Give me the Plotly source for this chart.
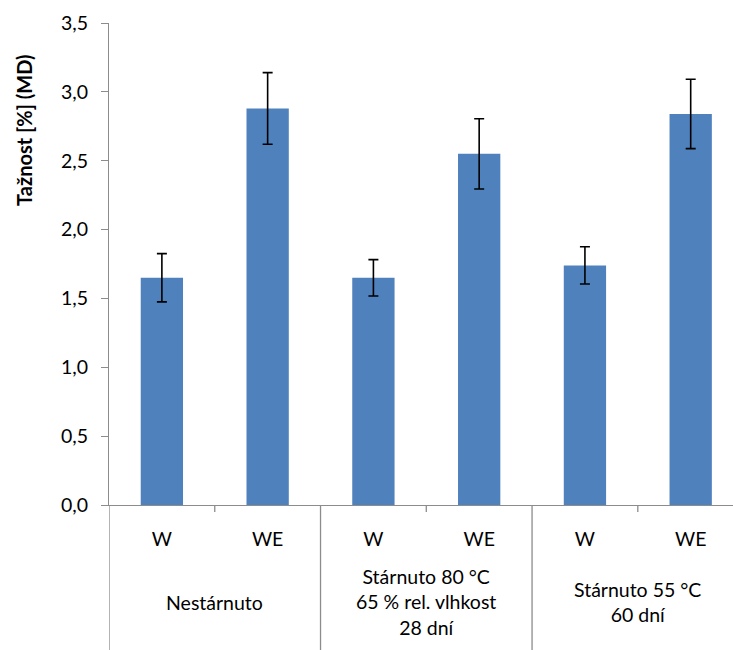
import plotly.graph_objects as go

# Data
groups = ["Nestárnuto", "Stárnuto 80 °C<br>65 % rel. vlhkost<br>28 dní", "Stárnuto 55 °C<br>60 dní"]
subcats = ["W", "WE", "W", "WE", "W", "WE"]
values = [1.65, 2.88, 1.65, 2.55, 1.74, 2.84]
errors = [0.175, 0.26, 0.132, 0.255, 0.135, 0.252]
y_ticks = [0.0, 0.5, 1.0, 1.5, 2.0, 2.5, 3.0, 3.5]

FONT = "Lato, 'Open Sans', sans-serif"
AXIS_GREY = "#8c8c8c"
BAR_BLUE = "#4f81bd"

xpos = list(range(len(values)))

fig = go.Figure()
fig.add_trace(go.Bar(
    x=xpos,
    y=values,
    width=0.4,
    marker=dict(color=BAR_BLUE, line=dict(width=0)),
    error_y=dict(type="data", array=errors, visible=True,
                 color="black", thickness=1.6, width=5),
    showlegend=False,
))

# bottom of the label area in paper units (below the x axis)
plot_h = 650 - 23 - 145
bottom = -145 / plot_h

shapes = []
# long separators: left edge and between the condition groups
for xv in [-0.5, 1.5, 3.5]:
    shapes.append(dict(type="line", xref="x", yref="paper",
                       x0=xv, x1=xv, y0=0, y1=bottom,
                       line=dict(color=AXIS_GREY, width=1.3)))
# short ticks between W and WE within each group
for xv in [0.5, 2.5, 4.5]:
    shapes.append(dict(type="line", xref="x", yref="paper",
                       x0=xv, x1=xv, y0=0, y1=-7 / plot_h,
                       line=dict(color=AXIS_GREY, width=1.3)))

annotations = []
# group labels centred under each pair of bars
for i, g in enumerate(groups):
    annotations.append(dict(
        x=2 * i + 0.5, xref="x", y=-97 / plot_h, yref="paper",
        text=g, showarrow=False, xanchor="center", yanchor="middle",
        font=dict(family=FONT, size=19.5, color="black"),
    ))
# y axis title
annotations.append(dict(
    x=-85 / 624, xref="paper", y=(505 - 130) / plot_h, yref="paper",
    text="<b>Tažnost [%] (MD)</b>", textangle=-90, showarrow=False,
    xanchor="center", yanchor="middle",
    font=dict(family=FONT, size=20, color="black"),
))

fig.update_layout(
    width=733, height=650,
    margin=dict(l=109, r=0, t=23, b=145),
    paper_bgcolor="white", plot_bgcolor="white",
    separators=", ",
    font=dict(family=FONT, size=19, color="black"),
    shapes=shapes,
    annotations=annotations,
    xaxis=dict(
        range=[-0.5, 5.4],
        tickvals=xpos, ticktext=subcats,
        ticks="", ticklabelstandoff=16,
        showline=True, linecolor=AXIS_GREY, linewidth=1.3,
        showgrid=False, zeroline=False,
        tickfont=dict(family=FONT, size=19.5, color="black"),
    ),
    yaxis=dict(
        range=[0, 3.5],
        tickvals=y_ticks, tickformat=".1f",
        ticks="outside", ticklen=7, tickcolor=AXIS_GREY, tickwidth=1.3,
        ticklabelstandoff=9,
        showline=True, linecolor=AXIS_GREY, linewidth=1.3,
        showgrid=False, zeroline=False,
        tickfont=dict(family=FONT, size=19.5, color="black"),
    ),
)

fig.write_html("out.html")
